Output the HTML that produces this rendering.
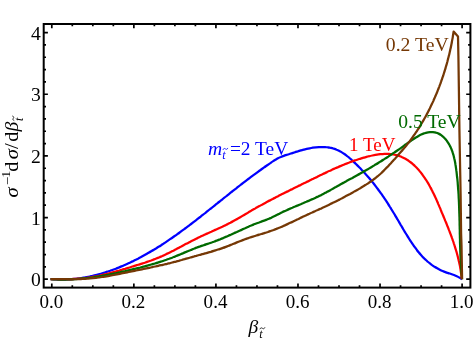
<!DOCTYPE html>
<html><head><meta charset="utf-8"><style>
html,body{margin:0;padding:0;background:#fff;}
svg{display:block;will-change:transform;font-family:"Liberation Serif",serif;font-size:18.5px;}
.c{fill:none;stroke-width:2.25;stroke-linejoin:round;stroke-linecap:butt}
.i{font-style:italic}
</style></head><body>
<svg width="474" height="341" viewBox="0 0 474 341">
<rect width="474" height="341" fill="#fff"/>
<path class="c" stroke="#0000ff" d="M50.6,279.1C51.1,279.1 52.6,279.3 53.7,279.3C54.7,279.4 55.7,279.4 56.7,279.5C57.7,279.5 58.7,279.5 59.8,279.5C60.8,279.6 61.8,279.6 62.8,279.5C63.8,279.5 64.8,279.5 65.8,279.5C66.8,279.4 67.9,279.4 68.9,279.3C69.9,279.3 70.9,279.2 71.9,279.1C72.9,279.0 73.9,278.9 74.9,278.8C75.9,278.7 76.9,278.6 77.9,278.5C78.9,278.4 79.9,278.2 80.9,278.1C81.9,277.9 82.9,277.8 83.8,277.6C84.8,277.4 85.8,277.3 86.8,277.1C87.8,276.9 88.8,276.7 89.8,276.5C90.8,276.3 91.7,276.0 92.7,275.8C93.7,275.6 94.7,275.4 95.6,275.1C96.6,274.9 97.6,274.6 98.6,274.3C99.5,274.1 100.5,273.8 101.5,273.5C102.4,273.2 103.4,273.0 104.4,272.7C105.3,272.4 106.3,272.0 107.3,271.7C108.2,271.4 109.2,271.1 110.1,270.8C111.1,270.4 112.0,270.1 113.0,269.7C113.9,269.4 114.9,269.0 115.8,268.7C116.8,268.3 117.7,267.9 118.6,267.6C119.6,267.2 120.5,266.8 121.4,266.4C122.4,266.0 123.3,265.6 124.2,265.2C125.2,264.8 126.1,264.4 127.0,264.0C127.9,263.6 128.9,263.1 129.8,262.7C130.7,262.3 131.6,261.8 132.5,261.4C133.4,260.9 134.3,260.5 135.2,260.0C136.2,259.6 137.1,259.1 138.0,258.7C138.9,258.2 139.8,257.7 140.6,257.3C141.5,256.8 142.4,256.3 143.3,255.8C144.2,255.3 145.1,254.8 146.0,254.3C146.9,253.8 147.7,253.3 148.6,252.8C149.5,252.3 150.4,251.8 151.2,251.3C152.1,250.8 153.0,250.3 153.8,249.8C154.7,249.2 155.5,248.7 156.4,248.2C157.3,247.6 158.1,247.1 159.0,246.6C159.8,246.0 160.7,245.5 161.5,245.0C162.4,244.4 163.2,243.9 164.0,243.3C164.9,242.8 165.7,242.2 166.6,241.6C167.4,241.1 168.2,240.5 169.1,239.9C169.9,239.4 170.7,238.8 171.6,238.2C172.4,237.7 173.2,237.1 174.0,236.5C174.9,235.9 175.7,235.4 176.5,234.8C177.3,234.2 178.2,233.6 179.0,233.0C179.8,232.4 180.6,231.8 181.4,231.2C182.2,230.6 183.0,230.0 183.9,229.4C184.7,228.8 185.5,228.2 186.3,227.6C187.1,227.0 187.9,226.4 188.7,225.8C189.5,225.2 190.3,224.6 191.1,224.0C191.9,223.4 192.7,222.8 193.5,222.1C194.3,221.5 195.1,220.9 195.9,220.3C196.7,219.7 197.5,219.1 198.3,218.4C199.1,217.8 199.9,217.2 200.7,216.6C201.5,215.9 202.3,215.3 203.1,214.7C203.9,214.1 204.7,213.4 205.5,212.8C206.3,212.2 207.0,211.6 207.8,210.9C208.6,210.3 209.4,209.7 210.2,209.0C211.0,208.4 211.8,207.8 212.6,207.2C213.4,206.5 214.2,205.9 214.9,205.3C215.7,204.6 216.5,204.0 217.3,203.4C218.1,202.7 218.9,202.1 219.7,201.5C220.5,200.8 221.3,200.2 222.1,199.6C222.8,198.9 223.6,198.3 224.4,197.7C225.2,197.1 226.0,196.4 226.8,195.8C227.6,195.2 228.4,194.5 229.2,193.9C230.0,193.3 230.8,192.6 231.5,192.0C232.3,191.4 233.1,190.8 233.9,190.1C234.7,189.5 235.5,188.9 236.3,188.3C237.1,187.6 237.9,187.0 238.7,186.4C239.5,185.8 240.3,185.2 241.1,184.5C241.9,183.9 242.7,183.3 243.5,182.7C244.3,182.1 245.1,181.5 245.9,180.8C246.7,180.2 247.5,179.6 248.3,179.0C249.1,178.4 249.9,177.8 250.7,177.2C251.5,176.6 252.3,176.0 253.1,175.4C254.0,174.8 254.8,174.2 255.6,173.6C256.4,173.0 257.2,172.4 258.0,171.8C258.8,171.2 259.6,170.6 260.5,170.0C261.3,169.4 262.1,168.8 262.9,168.3C263.7,167.7 264.6,167.1 265.4,166.5C266.2,165.9 267.0,165.4 267.9,164.8C268.7,164.2 269.5,163.6 270.3,163.1C271.2,162.5 272.0,161.9 272.8,161.4C273.7,160.8 274.5,160.3 275.4,159.8C276.3,159.3 277.1,158.8 278.0,158.3C278.9,157.8 279.8,157.4 280.8,157.0C281.7,156.6 282.7,156.2 283.7,155.9C284.6,155.5 285.6,155.2 286.6,154.9C287.6,154.6 288.5,154.3 289.5,154.0C290.4,153.7 291.4,153.4 292.3,153.1C293.2,152.8 294.1,152.5 295.0,152.2C295.9,151.9 296.9,151.5 297.8,151.3C298.8,151.0 299.7,150.7 300.7,150.4C301.7,150.1 302.7,149.9 303.6,149.6C304.6,149.4 305.6,149.1 306.7,148.9C307.7,148.7 308.7,148.5 309.7,148.3C310.7,148.1 311.8,147.9 312.8,147.7C313.8,147.6 314.8,147.5 315.9,147.4C316.9,147.3 317.9,147.2 319.0,147.1C320.0,147.1 321.0,147.0 322.0,147.0C323.0,147.0 324.1,147.1 325.1,147.1C326.1,147.2 327.1,147.3 328.1,147.4C329.0,147.6 330.0,147.7 331.0,147.9C331.9,148.1 332.9,148.4 333.8,148.7C334.8,149.0 335.7,149.3 336.6,149.7C337.5,150.0 338.4,150.5 339.3,150.9C340.2,151.4 341.0,151.8 341.9,152.4C342.7,152.9 343.5,153.4 344.4,154.0C345.2,154.6 346.0,155.2 346.8,155.8C347.6,156.4 348.4,157.1 349.2,157.7C349.9,158.4 350.7,159.1 351.5,159.7C352.2,160.4 353.0,161.1 353.7,161.8C354.5,162.5 355.2,163.3 356.0,164.0C356.7,164.7 357.4,165.4 358.1,166.1C358.8,166.8 359.6,167.6 360.3,168.3C361.0,169.0 361.7,169.8 362.4,170.5C363.1,171.2 363.7,172.0 364.4,172.7C365.1,173.5 365.8,174.2 366.4,175.0C367.1,175.7 367.8,176.5 368.4,177.2C369.1,178.0 369.7,178.8 370.4,179.5C371.0,180.3 371.7,181.1 372.3,181.9C372.9,182.7 373.6,183.4 374.2,184.2C374.8,185.0 375.4,185.8 376.0,186.6C376.6,187.4 377.2,188.2 377.8,189.0C378.4,189.8 379.0,190.6 379.6,191.5C380.2,192.3 380.8,193.1 381.4,193.9C382.0,194.7 382.5,195.6 383.1,196.4C383.7,197.2 384.2,198.1 384.8,198.9C385.4,199.7 385.9,200.6 386.5,201.4C387.0,202.3 387.6,203.1 388.1,204.0C388.7,204.8 389.2,205.7 389.7,206.5C390.3,207.4 390.8,208.3 391.3,209.1C391.9,210.0 392.4,210.8 392.9,211.7C393.4,212.6 394.0,213.4 394.5,214.3C395.0,215.2 395.5,216.0 396.0,216.9C396.5,217.8 397.1,218.7 397.6,219.5C398.1,220.4 398.6,221.3 399.1,222.1C399.6,223.0 400.1,223.9 400.6,224.8C401.1,225.6 401.7,226.5 402.2,227.4C402.7,228.3 403.2,229.1 403.7,230.0C404.2,230.9 404.8,231.7 405.3,232.6C405.8,233.4 406.3,234.3 406.9,235.2C407.4,236.0 407.9,236.9 408.5,237.7C409.0,238.6 409.5,239.4 410.1,240.3C410.6,241.1 411.2,242.0 411.8,242.8C412.3,243.6 412.9,244.5 413.5,245.3C414.0,246.1 414.6,246.9 415.2,247.7C415.8,248.6 416.4,249.4 417.0,250.2C417.6,251.0 418.2,251.8 418.9,252.5C419.5,253.3 420.2,254.1 420.8,254.8C421.5,255.6 422.2,256.3 422.9,257.1C423.6,257.8 424.3,258.5 425.0,259.2C425.8,259.9 426.5,260.6 427.3,261.3C428.1,261.9 428.8,262.6 429.6,263.2C430.4,263.8 431.2,264.5 432.1,265.1C432.9,265.6 433.7,266.2 434.6,266.8C435.4,267.3 436.3,267.8 437.2,268.3C438.0,268.8 438.9,269.3 439.8,269.7C440.7,270.2 441.7,270.6 442.6,271.0C443.5,271.4 444.5,271.8 445.4,272.1C446.3,272.5 447.3,272.8 448.3,273.1C449.2,273.4 450.2,273.7 451.1,274.0C452.1,274.4 453.0,274.7 454.0,275.0C454.9,275.4 455.8,275.8 456.8,276.2C457.7,276.6 458.6,277.1 459.4,277.6C460.3,278.1 461.6,279.0 462.0,279.3"/>
<path class="c" stroke="#ff0000" d="M50.6,279.1C51.1,279.1 52.6,279.2 53.6,279.2C54.6,279.2 55.6,279.2 56.6,279.2C57.7,279.2 58.7,279.3 59.7,279.3C60.7,279.3 61.7,279.3 62.7,279.3C63.7,279.3 64.7,279.3 65.7,279.2C66.8,279.2 67.8,279.2 68.8,279.2C69.8,279.1 70.8,279.1 71.8,279.1C72.8,279.0 73.8,279.0 74.9,278.9C75.9,278.9 76.9,278.8 77.9,278.7C78.9,278.6 79.9,278.6 80.9,278.5C81.9,278.4 82.9,278.3 83.9,278.2C84.9,278.0 85.9,277.9 86.9,277.8C87.9,277.7 88.9,277.5 89.9,277.4C90.9,277.2 91.9,277.1 92.9,276.9C93.9,276.7 94.9,276.5 95.9,276.3C96.9,276.2 97.9,276.0 98.8,275.8C99.8,275.5 100.8,275.3 101.8,275.1C102.8,274.9 103.8,274.7 104.7,274.4C105.7,274.2 106.7,273.9 107.7,273.7C108.7,273.4 109.6,273.2 110.6,272.9C111.6,272.7 112.6,272.4 113.5,272.1C114.5,271.9 115.5,271.6 116.4,271.3C117.4,271.0 118.4,270.8 119.4,270.5C120.3,270.2 121.3,269.9 122.3,269.6C123.2,269.3 124.2,269.0 125.2,268.8C126.2,268.5 127.1,268.2 128.1,267.9C129.1,267.6 130.0,267.3 131.0,267.0C132.0,266.7 132.9,266.4 133.9,266.1C134.9,265.8 135.8,265.5 136.8,265.2C137.8,264.9 138.7,264.6 139.7,264.3C140.7,264.0 141.6,263.7 142.6,263.4C143.6,263.1 144.5,262.8 145.5,262.5C146.4,262.1 147.4,261.8 148.3,261.5C149.3,261.1 150.2,260.8 151.2,260.5C152.1,260.1 153.1,259.8 154.0,259.4C155.0,259.1 155.9,258.7 156.8,258.3C157.8,257.9 158.7,257.6 159.6,257.2C160.5,256.8 161.5,256.4 162.4,256.0C163.3,255.5 164.2,255.1 165.1,254.7C166.0,254.3 166.9,253.8 167.8,253.4C168.8,252.9 169.7,252.5 170.6,252.0C171.5,251.6 172.4,251.1 173.3,250.7C174.2,250.2 175.1,249.8 176.0,249.3C176.8,248.8 177.7,248.3 178.6,247.9C179.5,247.4 180.4,246.9 181.3,246.5C182.2,246.0 183.1,245.5 184.0,245.0C184.9,244.6 185.8,244.1 186.7,243.6C187.6,243.1 188.5,242.7 189.4,242.2C190.3,241.7 191.2,241.3 192.1,240.8C193.0,240.4 193.9,239.9 194.8,239.4C195.7,239.0 196.6,238.5 197.5,238.1C198.4,237.6 199.3,237.2 200.2,236.8C201.1,236.3 202.1,235.9 203.0,235.5C203.9,235.1 204.8,234.6 205.7,234.2C206.6,233.8 207.6,233.4 208.5,233.0C209.4,232.6 210.3,232.2 211.3,231.8C212.2,231.4 213.1,231.0 214.0,230.5C214.9,230.1 215.9,229.7 216.8,229.3C217.7,228.9 218.6,228.5 219.5,228.0C220.5,227.6 221.4,227.2 222.3,226.8C223.2,226.3 224.1,225.9 225.0,225.4C225.9,225.0 226.8,224.5 227.7,224.1C228.6,223.6 229.5,223.1 230.4,222.7C231.3,222.2 232.2,221.7 233.0,221.2C233.9,220.7 234.8,220.2 235.7,219.7C236.6,219.3 237.4,218.8 238.3,218.3C239.2,217.7 240.1,217.2 241.0,216.7C241.8,216.2 242.7,215.7 243.6,215.2C244.5,214.7 245.3,214.2 246.2,213.7C247.1,213.2 248.0,212.7 248.8,212.1C249.7,211.6 250.6,211.1 251.4,210.6C252.3,210.1 253.2,209.6 254.1,209.1C255.0,208.6 255.8,208.1 256.7,207.6C257.6,207.1 258.5,206.6 259.4,206.1C260.2,205.6 261.1,205.1 262.0,204.7C262.9,204.2 263.8,203.7 264.7,203.2C265.6,202.7 266.4,202.3 267.3,201.8C268.2,201.3 269.1,200.8 270.0,200.4C270.9,199.9 271.8,199.4 272.7,199.0C273.6,198.5 274.5,198.0 275.4,197.6C276.3,197.1 277.2,196.6 278.1,196.2C278.9,195.7 279.8,195.3 280.7,194.8C281.6,194.3 282.5,193.9 283.4,193.4C284.3,193.0 285.2,192.5 286.1,192.1C287.1,191.6 288.0,191.2 288.9,190.7C289.8,190.3 290.7,189.8 291.6,189.4C292.5,188.9 293.4,188.5 294.3,188.0C295.2,187.6 296.1,187.2 297.0,186.7C297.9,186.3 298.8,185.8 299.7,185.4C300.6,184.9 301.5,184.5 302.4,184.0C303.3,183.6 304.3,183.1 305.2,182.7C306.1,182.3 307.0,181.8 307.9,181.4C308.8,180.9 309.7,180.5 310.6,180.0C311.5,179.6 312.4,179.1 313.3,178.7C314.2,178.2 315.2,177.8 316.1,177.4C317.0,176.9 317.9,176.5 318.8,176.0C319.7,175.6 320.6,175.1 321.5,174.7C322.4,174.3 323.4,173.8 324.3,173.4C325.2,172.9 326.1,172.5 327.0,172.1C327.9,171.6 328.8,171.2 329.8,170.8C330.7,170.4 331.6,169.9 332.5,169.5C333.4,169.1 334.4,168.7 335.3,168.3C336.2,167.9 337.1,167.5 338.1,167.1C339.0,166.7 339.9,166.3 340.9,165.9C341.8,165.5 342.7,165.1 343.6,164.7C344.6,164.3 345.5,163.9 346.5,163.6C347.4,163.2 348.3,162.8 349.3,162.5C350.2,162.1 351.2,161.8 352.1,161.4C353.1,161.1 354.0,160.8 355.0,160.4C355.9,160.1 356.9,159.8 357.8,159.5C358.8,159.2 359.7,158.9 360.7,158.6C361.7,158.3 362.6,158.0 363.6,157.7C364.6,157.4 365.5,157.2 366.5,156.9C367.5,156.6 368.5,156.4 369.5,156.2C370.4,155.9 371.4,155.7 372.4,155.5C373.4,155.3 374.4,155.1 375.4,154.9C376.4,154.7 377.4,154.5 378.4,154.4C379.4,154.3 380.4,154.1 381.4,154.0C382.4,154.0 383.4,153.9 384.4,153.8C385.4,153.8 386.4,153.8 387.4,153.8C388.4,153.9 389.4,153.9 390.4,154.0C391.4,154.1 392.4,154.3 393.4,154.5C394.4,154.7 395.4,154.9 396.4,155.1C397.4,155.4 398.4,155.7 399.3,156.0C400.3,156.4 401.2,156.7 402.2,157.2C403.1,157.6 404.0,158.0 404.9,158.5C405.8,159.0 406.6,159.5 407.5,160.0C408.3,160.6 409.1,161.2 409.9,161.8C410.8,162.4 411.5,163.0 412.3,163.6C413.1,164.3 413.8,165.0 414.6,165.7C415.3,166.4 416.0,167.1 416.7,167.8C417.4,168.5 418.1,169.3 418.8,170.1C419.4,170.8 420.1,171.6 420.7,172.4C421.3,173.2 421.9,174.0 422.5,174.8C423.1,175.6 423.7,176.5 424.3,177.3C424.9,178.1 425.4,179.0 426.0,179.8C426.5,180.7 427.0,181.5 427.6,182.4C428.1,183.2 428.6,184.1 429.1,185.0C429.6,185.9 430.1,186.7 430.5,187.6C431.0,188.5 431.5,189.4 431.9,190.3C432.4,191.2 432.8,192.1 433.3,193.0C433.7,193.9 434.2,194.8 434.6,195.8C435.0,196.7 435.4,197.6 435.9,198.5C436.3,199.4 436.7,200.4 437.1,201.3C437.5,202.2 437.9,203.1 438.3,204.1C438.7,205.0 439.1,205.9 439.5,206.9C439.9,207.8 440.3,208.7 440.7,209.7C441.1,210.6 441.4,211.5 441.8,212.5C442.2,213.4 442.6,214.4 443.0,215.3C443.4,216.2 443.8,217.2 444.2,218.1C444.6,219.0 445.0,220.0 445.3,220.9C445.7,221.8 446.1,222.8 446.5,223.7C446.9,224.7 447.2,225.6 447.6,226.5C448.0,227.5 448.4,228.4 448.7,229.4C449.1,230.3 449.5,231.2 449.8,232.2C450.2,233.1 450.5,234.1 450.9,235.0C451.2,236.0 451.6,236.9 451.9,237.9C452.3,238.8 452.6,239.8 452.9,240.7C453.3,241.7 453.6,242.6 453.9,243.6C454.2,244.5 454.5,245.5 454.8,246.4C455.1,247.4 455.4,248.4 455.7,249.3C456.0,250.3 456.3,251.3 456.6,252.2C456.9,253.2 457.1,254.2 457.4,255.1C457.6,256.1 457.9,257.1 458.1,258.1C458.4,259.0 458.6,260.0 458.8,261.0C459.1,262.0 459.3,263.0 459.5,263.9C459.7,264.9 459.9,265.9 460.1,266.9C460.2,267.9 460.4,268.9 460.6,269.9C460.7,270.9 460.9,271.9 461.0,272.9C461.2,273.9 461.3,274.9 461.4,275.9C461.5,277.0 461.6,278.5 461.7,279.0"/>
<path class="c" stroke="#006a00" d="M50.6,279.1C51.1,279.1 52.6,279.2 53.6,279.3C54.7,279.3 55.7,279.4 56.7,279.4C57.7,279.5 58.7,279.5 59.7,279.5C60.7,279.5 61.8,279.5 62.8,279.5C63.8,279.5 64.8,279.5 65.8,279.5C66.8,279.5 67.8,279.5 68.8,279.4C69.8,279.4 70.8,279.4 71.9,279.3C72.9,279.3 73.9,279.2 74.9,279.1C75.9,279.1 76.9,279.0 77.9,278.9C78.9,278.9 79.9,278.8 80.9,278.7C81.9,278.6 82.9,278.5 83.9,278.4C84.9,278.3 85.9,278.2 86.9,278.0C87.9,277.9 88.9,277.8 89.9,277.7C90.9,277.5 91.9,277.4 92.9,277.3C93.9,277.1 94.9,277.0 95.9,276.8C96.9,276.7 97.9,276.5 98.9,276.4C99.9,276.2 100.9,276.0 101.9,275.9C102.8,275.7 103.8,275.5 104.8,275.3C105.8,275.2 106.8,275.0 107.8,274.8C108.8,274.6 109.8,274.4 110.8,274.2C111.8,274.0 112.8,273.8 113.8,273.6C114.7,273.4 115.7,273.2 116.7,273.0C117.7,272.8 118.7,272.6 119.7,272.3C120.7,272.1 121.7,271.9 122.6,271.7C123.6,271.5 124.6,271.2 125.6,271.0C126.6,270.8 127.6,270.6 128.6,270.3C129.5,270.1 130.5,269.9 131.5,269.6C132.5,269.4 133.5,269.2 134.5,268.9C135.4,268.7 136.4,268.4 137.4,268.2C138.4,268.0 139.4,267.7 140.4,267.5C141.3,267.2 142.3,267.0 143.3,266.7C144.3,266.4 145.2,266.2 146.2,265.9C147.2,265.7 148.2,265.4 149.1,265.1C150.1,264.9 151.1,264.6 152.0,264.3C153.0,264.0 154.0,263.8 154.9,263.5C155.9,263.2 156.9,262.9 157.8,262.6C158.8,262.3 159.7,262.0 160.7,261.7C161.7,261.4 162.6,261.1 163.6,260.7C164.5,260.4 165.5,260.1 166.4,259.8C167.4,259.4 168.3,259.1 169.2,258.8C170.2,258.4 171.1,258.1 172.1,257.7C173.0,257.3 173.9,257.0 174.9,256.6C175.8,256.2 176.8,255.8 177.7,255.4C178.6,255.1 179.5,254.7 180.5,254.3C181.4,253.9 182.3,253.5 183.3,253.1C184.2,252.7 185.1,252.3 186.1,251.9C187.0,251.5 187.9,251.1 188.9,250.7C189.8,250.4 190.7,250.0 191.7,249.6C192.6,249.2 193.6,248.8 194.5,248.5C195.5,248.1 196.4,247.7 197.3,247.4C198.3,247.0 199.2,246.7 200.2,246.4C201.2,246.0 202.1,245.7 203.1,245.4C204.0,245.1 205.0,244.8 205.9,244.4C206.9,244.1 207.9,243.8 208.8,243.5C209.8,243.2 210.7,242.8 211.7,242.5C212.6,242.2 213.6,241.8 214.5,241.5C215.5,241.1 216.4,240.7 217.3,240.4C218.3,240.0 219.2,239.6 220.2,239.3C221.1,238.9 222.0,238.5 223.0,238.1C223.9,237.7 224.8,237.3 225.7,236.9C226.7,236.5 227.6,236.1 228.5,235.7C229.4,235.3 230.4,234.9 231.3,234.5C232.2,234.0 233.1,233.6 234.0,233.2C234.9,232.8 235.9,232.4 236.8,232.0C237.7,231.5 238.6,231.1 239.5,230.7C240.5,230.3 241.4,229.9 242.3,229.4C243.2,229.0 244.1,228.6 245.1,228.2C246.0,227.8 246.9,227.4 247.8,227.0C248.7,226.6 249.7,226.1 250.6,225.8C251.5,225.4 252.5,225.0 253.4,224.6C254.3,224.2 255.3,223.9 256.2,223.5C257.2,223.2 258.1,222.8 259.1,222.5C260.0,222.1 261.0,221.8 261.9,221.4C262.9,221.1 263.8,220.7 264.8,220.4C265.7,220.0 266.7,219.7 267.6,219.3C268.5,218.9 269.5,218.5 270.4,218.1C271.3,217.7 272.2,217.2 273.1,216.8C274.0,216.4 274.9,215.9 275.8,215.4C276.7,215.0 277.6,214.5 278.5,214.1C279.4,213.6 280.3,213.2 281.2,212.7C282.1,212.3 283.0,211.8 283.9,211.4C284.9,211.0 285.8,210.6 286.7,210.2C287.6,209.7 288.5,209.3 289.5,208.9C290.4,208.5 291.3,208.1 292.3,207.7C293.2,207.3 294.1,206.9 295.1,206.5C296.0,206.1 296.9,205.7 297.9,205.4C298.8,205.0 299.7,204.6 300.7,204.2C301.6,203.8 302.5,203.4 303.5,203.0C304.4,202.6 305.3,202.2 306.3,201.8C307.2,201.4 308.1,201.0 309.1,200.6C310.0,200.2 310.9,199.8 311.8,199.4C312.8,199.0 313.7,198.6 314.6,198.2C315.5,197.8 316.4,197.3 317.3,196.9C318.2,196.5 319.1,196.0 320.0,195.6C320.9,195.1 321.8,194.7 322.7,194.2C323.6,193.7 324.5,193.3 325.4,192.8C326.3,192.3 327.1,191.8 328.0,191.4C328.9,190.9 329.8,190.4 330.7,189.9C331.5,189.4 332.4,188.9 333.3,188.4C334.2,187.9 335.1,187.4 335.9,187.0C336.8,186.5 337.7,186.0 338.6,185.5C339.5,185.0 340.3,184.5 341.2,184.0C342.1,183.5 343.0,183.0 343.9,182.6C344.8,182.1 345.7,181.6 346.5,181.1C347.4,180.6 348.3,180.1 349.2,179.6C350.1,179.1 351.0,178.6 351.9,178.2C352.8,177.7 353.6,177.2 354.5,176.7C355.4,176.2 356.3,175.7 357.2,175.2C358.1,174.7 359.0,174.2 359.8,173.7C360.7,173.2 361.6,172.7 362.5,172.2C363.4,171.7 364.3,171.2 365.1,170.7C366.0,170.2 366.9,169.7 367.8,169.2C368.6,168.7 369.5,168.2 370.4,167.7C371.3,167.2 372.1,166.7 373.0,166.1C373.9,165.6 374.7,165.1 375.6,164.6C376.5,164.1 377.3,163.6 378.2,163.0C379.0,162.5 379.9,162.0 380.7,161.4C381.6,160.9 382.4,160.4 383.3,159.8C384.1,159.3 385.0,158.8 385.8,158.2C386.7,157.7 387.5,157.1 388.3,156.6C389.2,156.0 390.0,155.5 390.8,154.9C391.7,154.3 392.5,153.8 393.3,153.2C394.1,152.6 395.0,152.1 395.8,151.5C396.6,150.9 397.4,150.4 398.3,149.8C399.1,149.2 399.9,148.6 400.7,148.1C401.6,147.5 402.4,146.9 403.2,146.3C404.0,145.7 404.9,145.1 405.7,144.5C406.5,143.9 407.4,143.3 408.2,142.7C409.0,142.2 409.9,141.5 410.7,141.0C411.5,140.4 412.4,139.7 413.2,139.2C414.1,138.6 415.0,138.0 415.8,137.5C416.7,136.9 417.6,136.4 418.5,135.9C419.4,135.4 420.3,134.9 421.2,134.5C422.1,134.1 423.0,133.7 424.0,133.4C425.0,133.1 425.9,132.8 426.9,132.6C427.9,132.4 428.9,132.3 429.9,132.2C430.9,132.1 431.9,132.1 432.9,132.2C433.9,132.3 434.9,132.4 435.9,132.7C436.8,132.9 437.7,133.2 438.6,133.6C439.5,134.0 440.4,134.5 441.2,135.1C442.0,135.7 442.8,136.4 443.5,137.0C444.2,137.7 444.9,138.5 445.6,139.3C446.2,140.0 446.8,140.8 447.4,141.7C448.0,142.5 448.5,143.3 449.0,144.2C449.5,145.0 449.9,145.9 450.4,146.8C450.8,147.7 451.2,148.6 451.6,149.5C451.9,150.5 452.3,151.4 452.6,152.4C452.9,153.3 453.2,154.3 453.5,155.2C453.8,156.2 454.0,157.2 454.2,158.2C454.5,159.2 454.7,160.2 454.9,161.2C455.1,162.2 455.3,163.2 455.4,164.2C455.6,165.3 455.8,166.3 455.9,167.3C456.0,168.3 456.2,169.3 456.3,170.4C456.5,171.4 456.6,172.4 456.7,173.4C456.8,174.4 456.9,175.5 457.0,176.5C457.2,177.5 457.3,178.5 457.4,179.5C457.5,180.6 457.6,181.6 457.7,182.6C457.7,183.6 457.8,184.6 457.9,185.6C458.0,186.6 458.1,187.7 458.1,188.7C458.2,189.7 458.3,190.7 458.4,191.7C458.4,192.7 458.5,193.7 458.6,194.7C458.6,195.7 458.7,196.7 458.7,197.8C458.8,198.8 458.8,199.8 458.9,200.8C458.9,201.8 459.0,202.8 459.0,203.8C459.1,204.8 459.1,205.8 459.1,206.8C459.2,207.8 459.2,208.8 459.2,209.8C459.3,210.8 459.3,211.8 459.3,212.8C459.4,213.8 459.4,214.8 459.4,215.9C459.5,216.9 459.5,217.9 459.5,218.9C459.5,219.9 459.6,220.9 459.6,221.9C459.6,222.9 459.6,223.9 459.6,224.9C459.7,225.9 459.7,226.9 459.7,227.9C459.7,228.9 459.8,229.9 459.8,230.9C459.8,231.9 459.8,232.9 459.8,233.9C459.9,234.9 459.9,235.9 459.9,236.9C459.9,237.9 460.0,238.9 460.0,239.9C460.0,240.9 460.0,241.9 460.0,242.9C460.1,243.9 460.1,244.9 460.1,245.9C460.2,246.9 460.2,248.0 460.2,249.0C460.3,250.0 460.3,251.0 460.3,252.0C460.4,253.0 460.4,254.0 460.4,255.0C460.5,256.0 460.5,257.0 460.6,258.0C460.6,259.0 460.7,260.0 460.7,261.0C460.8,262.1 460.8,263.1 460.9,264.1C460.9,265.1 461.0,266.1 461.1,267.1C461.1,268.1 461.2,269.1 461.3,270.1C461.3,271.2 461.4,272.2 461.5,273.2C461.6,274.2 461.6,275.2 461.7,276.2C461.8,277.3 462.0,278.8 462.0,279.3"/>
<path class="c" stroke="#753805" d="M50.6,279.1C51.1,279.1 52.6,279.1 53.6,279.1C54.6,279.1 55.6,279.1 56.6,279.2C57.6,279.2 58.7,279.2 59.7,279.2C60.7,279.2 61.7,279.2 62.7,279.2C63.7,279.2 64.7,279.2 65.7,279.2C66.7,279.3 67.7,279.3 68.7,279.3C69.8,279.3 70.8,279.3 71.8,279.3C72.8,279.2 73.8,279.2 74.8,279.2C75.8,279.2 76.8,279.2 77.8,279.2C78.9,279.1 79.9,279.1 80.9,279.1C81.9,279.0 82.9,279.0 83.9,278.9C84.9,278.9 85.9,278.8 86.9,278.7C87.9,278.7 88.9,278.6 89.9,278.5C90.9,278.4 91.9,278.3 92.9,278.2C93.9,278.1 94.9,278.0 95.9,277.9C96.9,277.7 97.9,277.6 98.9,277.5C99.9,277.3 100.9,277.2 101.9,277.0C102.9,276.9 103.9,276.7 104.9,276.6C105.9,276.4 106.9,276.2 107.9,276.1C108.9,275.9 109.9,275.7 110.9,275.5C111.9,275.3 112.8,275.2 113.8,275.0C114.8,274.8 115.8,274.6 116.8,274.4C117.8,274.2 118.8,274.0 119.8,273.8C120.8,273.6 121.8,273.4 122.7,273.2C123.7,273.0 124.7,272.8 125.7,272.6C126.7,272.4 127.7,272.2 128.7,272.0C129.7,271.8 130.7,271.6 131.6,271.4C132.6,271.2 133.6,271.0 134.6,270.8C135.6,270.6 136.6,270.4 137.6,270.2C138.6,270.0 139.5,269.8 140.5,269.6C141.5,269.4 142.5,269.2 143.5,269.0C144.5,268.8 145.5,268.6 146.4,268.4C147.4,268.2 148.4,268.0 149.4,267.8C150.4,267.5 151.4,267.3 152.4,267.1C153.3,266.9 154.3,266.7 155.3,266.5C156.3,266.3 157.3,266.1 158.3,265.8C159.2,265.6 160.2,265.4 161.2,265.2C162.2,265.0 163.2,264.7 164.1,264.5C165.1,264.3 166.1,264.0 167.1,263.8C168.1,263.6 169.0,263.3 170.0,263.1C171.0,262.8 172.0,262.6 172.9,262.3C173.9,262.1 174.9,261.8 175.9,261.6C176.8,261.3 177.8,261.0 178.8,260.8C179.8,260.5 180.7,260.2 181.7,260.0C182.7,259.7 183.7,259.4 184.6,259.2C185.6,258.9 186.6,258.6 187.5,258.3C188.5,258.1 189.5,257.8 190.4,257.5C191.4,257.2 192.4,257.0 193.4,256.7C194.3,256.4 195.3,256.1 196.3,255.9C197.2,255.6 198.2,255.3 199.2,255.0C200.2,254.8 201.1,254.5 202.1,254.2C203.1,253.9 204.0,253.7 205.0,253.4C206.0,253.1 207.0,252.9 207.9,252.6C208.9,252.3 209.9,252.0 210.8,251.8C211.8,251.5 212.8,251.2 213.7,250.9C214.7,250.6 215.7,250.3 216.6,250.0C217.6,249.7 218.5,249.4 219.5,249.1C220.5,248.8 221.4,248.5 222.4,248.1C223.3,247.8 224.3,247.5 225.2,247.1C226.1,246.8 227.1,246.4 228.0,246.0C229.0,245.7 229.9,245.3 230.8,244.9C231.8,244.5 232.7,244.2 233.6,243.8C234.6,243.4 235.5,243.0 236.4,242.6C237.4,242.2 238.3,241.9 239.2,241.5C240.2,241.1 241.1,240.8 242.1,240.4C243.0,240.0 244.0,239.7 244.9,239.3C245.8,239.0 246.8,238.7 247.7,238.3C248.7,238.0 249.6,237.7 250.6,237.3C251.6,237.0 252.5,236.7 253.5,236.4C254.4,236.1 255.4,235.8 256.3,235.5C257.3,235.2 258.3,234.9 259.2,234.6C260.2,234.3 261.2,234.1 262.1,233.8C263.1,233.5 264.0,233.2 265.0,232.9C266.0,232.6 266.9,232.3 267.9,232.0C268.8,231.6 269.8,231.3 270.7,231.0C271.7,230.7 272.6,230.3 273.6,230.0C274.5,229.6 275.4,229.2 276.4,228.9C277.3,228.5 278.2,228.1 279.2,227.7C280.1,227.4 281.0,227.0 282.0,226.6C282.9,226.2 283.8,225.8 284.7,225.4C285.7,224.9 286.6,224.5 287.5,224.1C288.4,223.7 289.3,223.3 290.2,222.8C291.2,222.4 292.1,222.0 293.0,221.6C293.9,221.1 294.8,220.7 295.7,220.3C296.6,219.8 297.6,219.4 298.5,219.0C299.4,218.5 300.3,218.1 301.2,217.6C302.1,217.2 303.0,216.8 303.9,216.3C304.8,215.9 305.8,215.5 306.7,215.0C307.6,214.6 308.5,214.2 309.4,213.8C310.3,213.3 311.2,212.9 312.2,212.5C313.1,212.1 314.0,211.7 314.9,211.3C315.8,210.8 316.7,210.4 317.7,210.0C318.6,209.6 319.5,209.2 320.4,208.8C321.3,208.4 322.2,207.9 323.1,207.5C324.1,207.1 325.0,206.7 325.9,206.3C326.8,205.8 327.7,205.4 328.6,205.0C329.5,204.5 330.4,204.1 331.3,203.6C332.2,203.2 333.1,202.8 334.1,202.3C335.0,201.9 335.9,201.4 336.8,200.9C337.7,200.5 338.6,200.0 339.5,199.6C340.3,199.1 341.2,198.6 342.1,198.2C343.0,197.7 343.9,197.2 344.8,196.7C345.7,196.3 346.6,195.8 347.5,195.3C348.4,194.8 349.3,194.3 350.1,193.9C351.0,193.4 351.9,192.9 352.8,192.4C353.7,191.9 354.5,191.4 355.4,190.9C356.3,190.4 357.2,189.9 358.1,189.4C358.9,188.9 359.8,188.4 360.7,187.9C361.5,187.4 362.4,186.8 363.3,186.3C364.1,185.8 365.0,185.3 365.8,184.8C366.7,184.2 367.6,183.7 368.4,183.1C369.2,182.6 370.1,182.0 370.9,181.5C371.7,180.9 372.5,180.3 373.3,179.7C374.1,179.1 374.9,178.5 375.7,177.9C376.5,177.3 377.3,176.6 378.0,176.0C378.8,175.3 379.5,174.7 380.3,174.0C381.0,173.3 381.8,172.6 382.5,171.9C383.2,171.2 383.9,170.5 384.6,169.8C385.3,169.1 386.0,168.4 386.7,167.6C387.4,166.9 388.1,166.2 388.8,165.4C389.5,164.7 390.2,163.9 390.9,163.2C391.6,162.4 392.2,161.7 392.9,160.9C393.6,160.2 394.3,159.4 395.0,158.7C395.6,157.9 396.3,157.2 397.0,156.4C397.6,155.6 398.3,154.9 399.0,154.1C399.6,153.4 400.3,152.6 401.0,151.8C401.6,151.1 402.3,150.3 402.9,149.5C403.6,148.8 404.2,148.0 404.9,147.2C405.5,146.4 406.1,145.7 406.8,144.9C407.4,144.1 408.0,143.3 408.7,142.5C409.3,141.7 409.9,140.9 410.5,140.1C411.1,139.3 411.7,138.5 412.3,137.7C412.9,136.9 413.5,136.0 414.0,135.2C414.6,134.4 415.2,133.6 415.7,132.7C416.3,131.9 416.9,131.1 417.4,130.2C418.0,129.4 418.5,128.5 419.1,127.7C419.6,126.8 420.1,126.0 420.6,125.1C421.2,124.3 421.7,123.4 422.2,122.5C422.7,121.7 423.2,120.8 423.7,119.9C424.2,119.1 424.7,118.2 425.2,117.3C425.7,116.4 426.2,115.5 426.6,114.6C427.1,113.7 427.6,112.9 428.0,112.0C428.5,111.1 429.0,110.2 429.4,109.3C429.9,108.4 430.3,107.4 430.7,106.5C431.2,105.6 431.6,104.7 432.0,103.8C432.5,102.9 432.9,102.0 433.3,101.1C433.7,100.1 434.1,99.2 434.5,98.3C434.9,97.4 435.3,96.4 435.7,95.5C436.1,94.6 436.5,93.6 436.9,92.7C437.3,91.8 437.6,90.8 438.0,89.9C438.4,89.0 438.7,88.0 439.1,87.1C439.5,86.1 439.8,85.2 440.2,84.2C440.5,83.3 440.9,82.3 441.2,81.4C441.5,80.4 441.9,79.5 442.2,78.5C442.5,77.6 442.8,76.6 443.2,75.7C443.5,74.7 443.8,73.8 444.1,72.8C444.4,71.8 444.7,70.9 445.0,69.9C445.3,69.0 445.6,68.0 445.8,67.0C446.1,66.1 446.4,65.1 446.7,64.1C447.0,63.2 447.2,62.2 447.5,61.2C447.7,60.2 448.0,59.3 448.2,58.3C448.5,57.3 448.7,56.3 449.0,55.4C449.2,54.4 449.5,53.4 449.7,52.4C449.9,51.4 450.1,50.5 450.3,49.5C450.6,48.5 450.8,47.5 451.0,46.5C451.2,45.5 451.4,44.5 451.6,43.5C451.8,42.6 451.9,41.6 452.1,40.6C452.3,39.6 452.5,38.6 452.7,37.6C452.8,36.6 453.0,35.6 453.1,34.6C453.3,33.6 453.5,32.1 453.6,31.6C454.3,32.4 457.3,35.7 458.0,36.5C458.1,39.7 458.3,52.5 458.4,55.7C458.5,61.5 458.8,84.9 458.9,90.7C459.0,97.0 459.3,122.4 459.4,128.7C459.5,132.4 459.7,147.0 459.8,150.7C459.9,157.9 460.5,186.5 460.6,193.7C460.7,200.2 461.0,226.4 461.1,233.0C461.2,235.0 461.4,243.0 461.5,245.0C461.6,250.7 462.0,273.5 462.1,279.2"/>
<rect x="43.7" y="24.0" width="426.7" height="263.6" fill="none" stroke="#000" stroke-width="2"/>
<path d="M51.80,287.6v-4.2M51.80,24.0v4.2M72.31,287.6v-2.3M72.31,24.0v2.3M92.83,287.6v-2.3M92.83,24.0v2.3M113.34,287.6v-2.3M113.34,24.0v2.3M133.86,287.6v-4.2M133.86,24.0v4.2M154.38,287.6v-2.3M154.38,24.0v2.3M174.89,287.6v-2.3M174.89,24.0v2.3M195.40,287.6v-2.3M195.40,24.0v2.3M215.92,287.6v-4.2M215.92,24.0v4.2M236.44,287.6v-2.3M236.44,24.0v2.3M256.95,287.6v-2.3M256.95,24.0v2.3M277.47,287.6v-2.3M277.47,24.0v2.3M297.98,287.6v-4.2M297.98,24.0v4.2M318.50,287.6v-2.3M318.50,24.0v2.3M339.01,287.6v-2.3M339.01,24.0v2.3M359.53,287.6v-2.3M359.53,24.0v2.3M380.04,287.6v-4.2M380.04,24.0v4.2M400.56,287.6v-2.3M400.56,24.0v2.3M421.07,287.6v-2.3M421.07,24.0v2.3M441.58,287.6v-2.3M441.58,24.0v2.3M462.10,287.6v-4.2M462.10,24.0v4.2M43.7,279.20h4.2M470.4,279.20h-4.2M43.7,266.87h2.3M470.4,266.87h-2.3M43.7,254.54h2.3M470.4,254.54h-2.3M43.7,242.21h2.3M470.4,242.21h-2.3M43.7,229.88h2.3M470.4,229.88h-2.3M43.7,217.55h4.2M470.4,217.55h-4.2M43.7,205.22h2.3M470.4,205.22h-2.3M43.7,192.89h2.3M470.4,192.89h-2.3M43.7,180.56h2.3M470.4,180.56h-2.3M43.7,168.23h2.3M470.4,168.23h-2.3M43.7,155.90h4.2M470.4,155.90h-4.2M43.7,143.57h2.3M470.4,143.57h-2.3M43.7,131.24h2.3M470.4,131.24h-2.3M43.7,118.91h2.3M470.4,118.91h-2.3M43.7,106.58h2.3M470.4,106.58h-2.3M43.7,94.25h4.2M470.4,94.25h-4.2M43.7,81.92h2.3M470.4,81.92h-2.3M43.7,69.59h2.3M470.4,69.59h-2.3M43.7,57.26h2.3M470.4,57.26h-2.3M43.7,44.93h2.3M470.4,44.93h-2.3M43.7,32.60h4.2M470.4,32.60h-4.2" stroke="#000" stroke-width="1.7" fill="none"/>
<g><text transform="translate(51.40,307.80) scale(1.03,1)" font-size="18.5" fill="#000" text-anchor="middle">0.0</text><text transform="translate(133.46,307.80) scale(1.03,1)" font-size="18.5" fill="#000" text-anchor="middle">0.2</text><text transform="translate(215.52,307.80) scale(1.03,1)" font-size="18.5" fill="#000" text-anchor="middle">0.4</text><text transform="translate(297.58,307.80) scale(1.03,1)" font-size="18.5" fill="#000" text-anchor="middle">0.6</text><text transform="translate(379.64,307.80) scale(1.03,1)" font-size="18.5" fill="#000" text-anchor="middle">0.8</text><text transform="translate(461.70,307.80) scale(1.03,1)" font-size="18.5" fill="#000" text-anchor="middle">1.0</text><text transform="translate(40.90,286.40) scale(1.06,1)" font-size="18.5" fill="#000" text-anchor="end">0</text><text transform="translate(40.90,224.75) scale(1.06,1)" font-size="18.5" fill="#000" text-anchor="end">1</text><text transform="translate(40.90,163.10) scale(1.06,1)" font-size="18.5" fill="#000" text-anchor="end">2</text><text transform="translate(40.90,101.45) scale(1.06,1)" font-size="18.5" fill="#000" text-anchor="end">3</text><text transform="translate(40.90,39.80) scale(1.06,1)" font-size="18.5" fill="#000" text-anchor="end">4</text></g>
<g class="i"><text transform="translate(248.50,333.40) scale(1.06,1)" font-size="18.5" fill="#000" text-anchor="start">β</text><text transform="translate(259.30,338.00) scale(1.06,1)" font-size="11.5" fill="#000" text-anchor="start">t</text></g>
<path d="M260.00,328.90c0.58,-1.3 1.44,-1.3 2.40,-0.6s1.82,0.7 2.40,-0.6" fill="none" stroke="#000" stroke-width="0.8" stroke-linecap="round"/>
<g transform="translate(17.9,197.2) rotate(-90)">
<g class="i"><text transform="translate(-0.30,0.00) scale(1.06,1)" font-size="19.5" fill="#000" text-anchor="start">σ</text></g><text transform="translate(12.50,-5.90) scale(1.06,1)" font-size="14" fill="#000" text-anchor="start">−</text><text transform="translate(19.50,-8.20) scale(1.06,1)" font-size="13.2" fill="#000" text-anchor="start">1</text><text transform="translate(25.50,0.00) scale(1.1,1)" font-size="18.5" fill="#000" text-anchor="start">d</text><g class="i"><text transform="translate(38.00,0.00) scale(1.06,1)" font-size="19.5" fill="#000" text-anchor="start">σ</text></g><text transform="translate(48.30,0.00) scale(1.1,1)" font-size="18.5" fill="#000" text-anchor="start">/</text><text transform="translate(55.50,0.00) scale(1.1,1)" font-size="18.5" fill="#000" text-anchor="start">d</text><g class="i"><text transform="translate(65.60,0.00) scale(1.06,1)" font-size="18.5" fill="#000" text-anchor="start">β</text><text transform="translate(76.20,4.60) scale(1.06,1)" font-size="11.5" fill="#000" text-anchor="start">t</text></g>
<path d="M76.70,-4.00c0.53,-1.3 1.32,-1.3 2.20,-0.6s1.67,0.7 2.20,-0.6" fill="none" stroke="#000" stroke-width="0.8" stroke-linecap="round"/>
</g>
<g class="i"><text transform="translate(208.00,154.50) scale(1.06,1)" font-size="18.5" fill="#0000ff" text-anchor="start">m</text><text transform="translate(222.20,158.80) scale(1.06,1)" font-size="11.5" fill="#0000ff" text-anchor="start">t</text></g>
<path d="M223.10,149.50c0.55,-1.3 1.38,-1.3 2.30,-0.6s1.75,0.7 2.30,-0.6" fill="none" stroke="#0000ff" stroke-width="0.8" stroke-linecap="round"/>
<text transform="translate(229.90,155.00) scale(1.05,1)" font-size="18.5" fill="#0000ff" text-anchor="start">=2 TeV</text>
<text transform="translate(349.00,150.80) scale(1.03,1)" font-size="18.5" fill="#ff0000" text-anchor="start">1 TeV</text>
<text transform="translate(398.20,127.90) scale(1.06,1)" font-size="18.5" fill="#006a00" text-anchor="start">0.5 TeV</text>
<text transform="translate(385.80,50.60) scale(1.065,1)" font-size="18.5" fill="#753805" text-anchor="start">0.2 TeV</text>
</svg>
</body></html>
